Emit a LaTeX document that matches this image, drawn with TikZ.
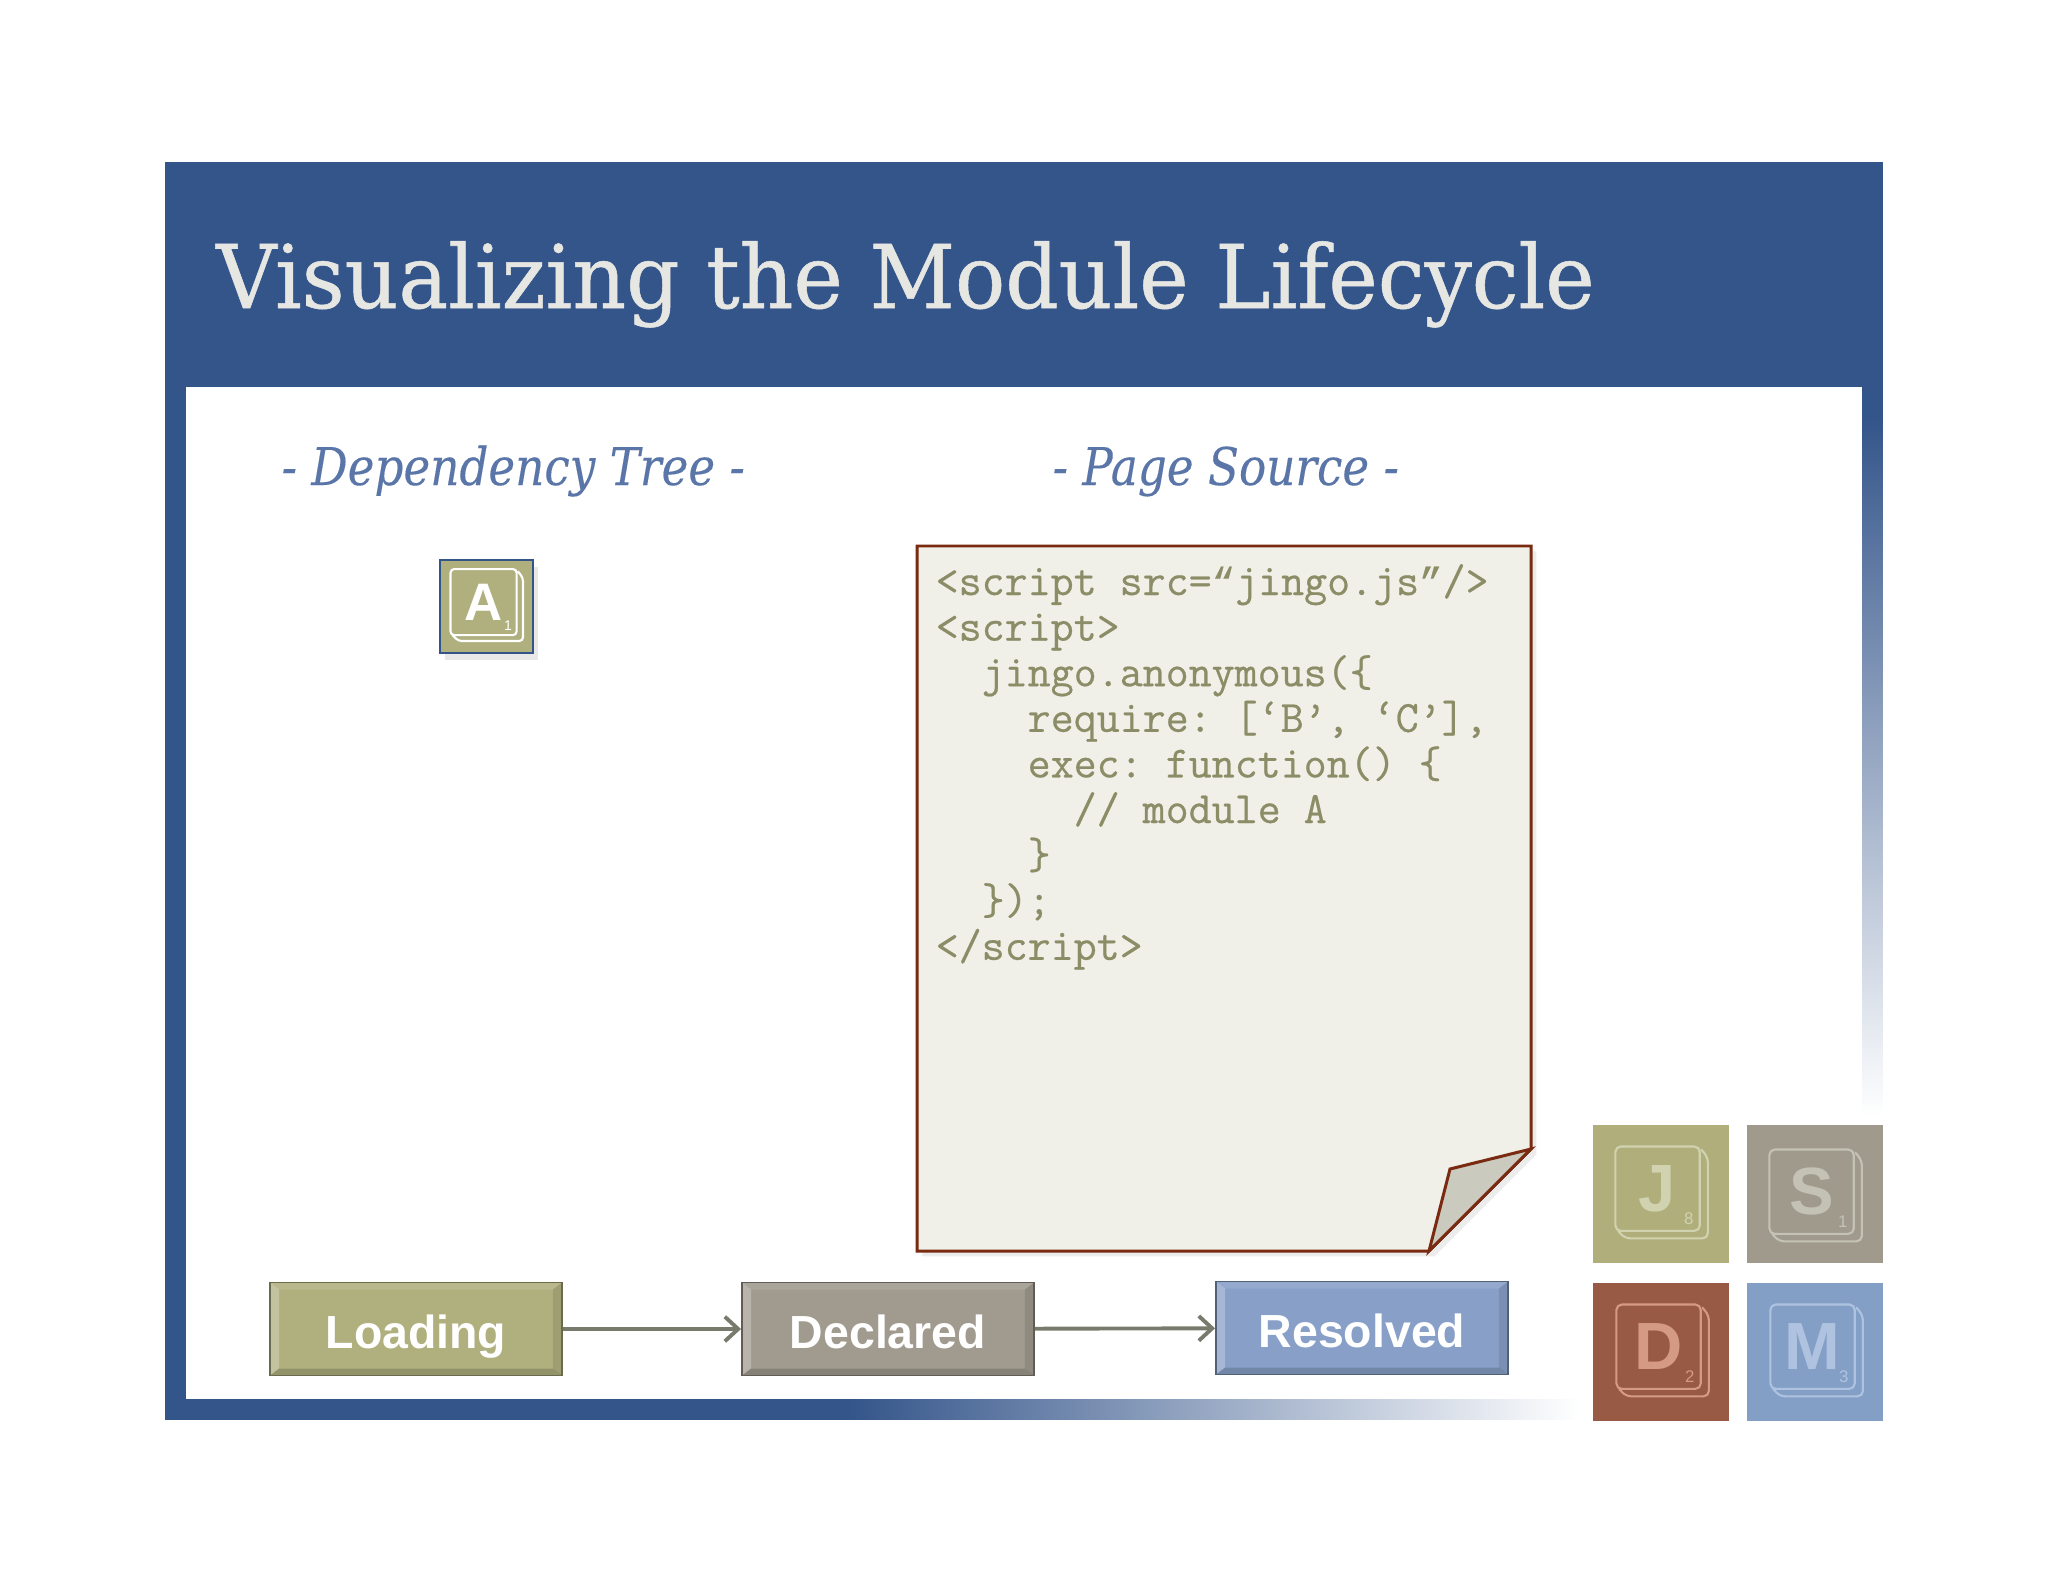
\documentclass[tikz,border=0pt]{standalone}
\usepackage{fontspec}
\setsansfont{Liberation Sans}
\newfontfamily\slabfont[FakeStretch=0.95, FakeBold=0.6]{DejaVu Serif}
\newfontfamily\slabheadfont[FakeStretch=0.87, FakeBold=0.2]{DejaVu Serif}
\newfontfamily\codefont[FakeBold=0.5]{Latin Modern Mono}
\newfontfamily\quotefont[FakeBold=0.3]{Liberation Mono}
\usetikzlibrary{arrows.meta}
\usetikzlibrary{shadows}

\definecolor{framecol}{HTML}{34558A}
\definecolor{titlecol}{HTML}{E6E6E2}
\definecolor{headcol}{HTML}{5A75A8}
\definecolor{pagecol}{HTML}{F0EFE8}
\definecolor{foldcol}{HTML}{CBCABF}
\definecolor{pageline}{HTML}{7A2A10}
\definecolor{codecol}{HTML}{8A8D66}
\definecolor{loadcol}{HTML}{B0B07F}
\definecolor{declcol}{HTML}{A19B8F}
\definecolor{rescol}{HTML}{88A0C8}
\definecolor{arrowcol}{HTML}{787A6B}
\definecolor{tileJ}{HTML}{B0AF7C}
\definecolor{tileS}{HTML}{A09A8D}
\definecolor{tileD}{HTML}{985A45}
\definecolor{tileM}{HTML}{849FC6}
\definecolor{markJ}{HTML}{D1D2B0}
\definecolor{markS}{HTML}{C4C2B4}
\definecolor{markD}{HTML}{D59A84}
\definecolor{markM}{HTML}{AFC3E0}

\newcommand{\opening}{{\quotefont\fontsize{11.1}{14}\selectfont“}}
\newcommand{\closing}{{\quotefont\fontsize{11.1}{14}\selectfont”}}

\tikzset{
	statebox/.style = {draw = #1!60!black, fill = #1, line width = 0.5pt, inner sep = 0pt, minimum width = 2.92cm, minimum height = 0.93cm,
		text = white, text height = 13.8pt, text depth = 3pt, font = \sffamily\bfseries\fontsize{13.2}{16}\selectfont,
		path picture = {
			\fill [white, opacity = 0.25] (path picture bounding box.north west) -- ++(2.6pt, -2pt) -- ([shift = {(2.6pt, 2pt)}] path picture bounding box.south west) -- (path picture bounding box.south west) -- cycle;
			\fill [white, opacity = 0.1] (path picture bounding box.north west) -- (path picture bounding box.north east) -- ++(-2.6pt, -2pt) -- ([shift = {(2.6pt, -2pt)}] path picture bounding box.north west) -- cycle;
			\fill [black, opacity = 0.1] (path picture bounding box.north east) -- (path picture bounding box.south east) -- ++(-2.6pt, 2pt) -- ([shift = {(-2.6pt, -2pt)}] path picture bounding box.north east) -- cycle;
			\fill [black, opacity = 0.16] (path picture bounding box.south west) -- (path picture bounding box.south east) -- ++(-2.6pt, 2pt) -- ([shift = {(2.6pt, 2pt)}] path picture bounding box.south west) -- cycle;
		}},
	flowarrow/.style = {draw = arrowcol, line width = 1.1pt, -{Straight Barb[length = 3.8pt, width = 7pt]}},
	tilebox/.style = {fill = #1, inner sep = 0pt, minimum width = 1.36cm, minimum height = 1.37cm},
	headtext/.style = {anchor = base west, inner sep = 0pt, text = headcol, font = \slabheadfont\itshape\fontsize{14.8}{18}\selectfont},
	codetext/.style = {anchor = base west, inner sep = 0pt, text = codecol, font = \codefont\frenchspacing\fontsize{12.7}{14}\selectfont}
}

\newcommand{\tilemark}[9]{
	\begin{scope}[shift = {(tile#1.north west)}, x = #2, y = -#2, #9, #3, line width = 0.6pt]
		\draw [rounded corners = #8] (17, 16) rectangle (79, 78);
		\draw [rounded corners = #8] (80, 18) -- (85, 24) -- (85, 83.5) -- (24, 83.5) -- (19, 78);
		\node (letter#1) at (48, 47) [inner sep = 0pt, text = #3, font = \sffamily\bfseries\fontsize{#6}{#6}\selectfont] {#4};
		\node (digit#1) at (71, 69) [inner sep = 0pt, text = #3, font = \sffamily\fontsize{#7}{#7}\selectfont] {#5};
	\end{scope}
}

\begin{document}
\begin{tikzpicture}[x = 0.01cm, y = -0.01cm]
	\useasboundingbox [fill = white] (0, 0) rectangle (2048, 1582);

	\shade [top color = framecol, bottom color = white] (1862, 418) rectangle (1882.5, 1117);
	\shade [left color = framecol, right color = white] (849, 1399.5) rectangle (1580, 1419);
	\fill [framecol] (165, 162) rectangle (1883, 387);
	\fill [framecol] (165, 387) rectangle (185.5, 1420);
	\fill [framecol] (185, 1399) rectangle (850, 1420);
	\fill [framecol] (1862, 386) rectangle (1883, 419);

	\node (title) at (215.5, 308) [anchor = base west, inner sep = 0pt, text = titlecol, font = \slabfont\fontsize{25}{30}\selectfont] {Visualizing the Module Lifecycle};
	\node (treehead) at (281, 485) [headtext] {- Dependency Tree -};
	\node (pagehead) at (1052, 485) [headtext] {- Page Source -};

	\node (tileA) at (486.5, 606.5) [draw = framecol, fill = loadcol, line width = 0.6pt, inner sep = 0pt, minimum size = 0.93cm, drop shadow = {shadow xshift = 1.5pt, shadow yshift = -2pt, opacity = 0.18}] {};
	\tilemark{A}{0.01065cm}{white}{A}{1}{15}{4}{3.7*0.01cm}{xshift = -0.065cm, yshift = 0.069cm}

	\draw [pageline, fill = pagecol, line width = 0.85pt, drop shadow = {shadow xshift = 1.5pt, shadow yshift = -1.5pt, opacity = 0.15}] (917, 546) -- (1531, 546) -- (1531, 1149) -- (1429, 1251) -- (917, 1251) -- cycle;
	\draw [pageline, fill = foldcol, line width = 0.85pt, line join = miter] (1531, 1149) -- (1450, 1169) -- (1429, 1251) -- cycle;
	\foreach \n/\col/\codeline in {0/0/{<script src=\opening jingo.js\closing/>}, 1/0/{<script>}, 2/2/{jingo.anonymous(\{}, 3/4/{require: [‘B’, ‘C’],}, 4/4/{exec: function() \{}, 5/6/{// module A}, 6/4/{\}}, 7/2/{\});}, 8/0/{</script>}}
		\node (code\n) at ({935 + 23 * \col}, {595 + 45.6 * \n}) [codetext] {\codeline};

	\node (loading) at (416, 1329) [statebox = loadcol] {Loading};
	\node (declared) at (888, 1329) [statebox = declcol] {Declared};
	\node (resolved) at (1362, 1328) [statebox = rescol] {Resolved};
	\draw [flowarrow] (loading) -- (declared);
	\draw [flowarrow] (declared) -- (resolved);

	\foreach \name/\tx/\ty in {J/1661/1194, S/1815/1194, D/1661/1352, M/1815/1352} {
		\node (tile\name) at (\tx, \ty) [tilebox = tile\name] {};
	}
	\tilemark{J}{0.0136cm}{markJ}{J}{8}{19}{4.8}{5.4*0.01cm}{xshift = 0cm}
	\tilemark{S}{0.0136cm}{markS}{S}{1}{19}{4.8}{5.4*0.01cm}{yshift = -0.03cm}
	\tilemark{D}{0.0136cm}{markD}{D}{2}{19}{4.8}{5.4*0.01cm}{xshift = 0.01cm}
	\tilemark{M}{0.0136cm}{markM}{M}{3}{19}{4.8}{5.4*0.01cm}{xshift = 0.01cm}
\end{tikzpicture}
\end{document}
